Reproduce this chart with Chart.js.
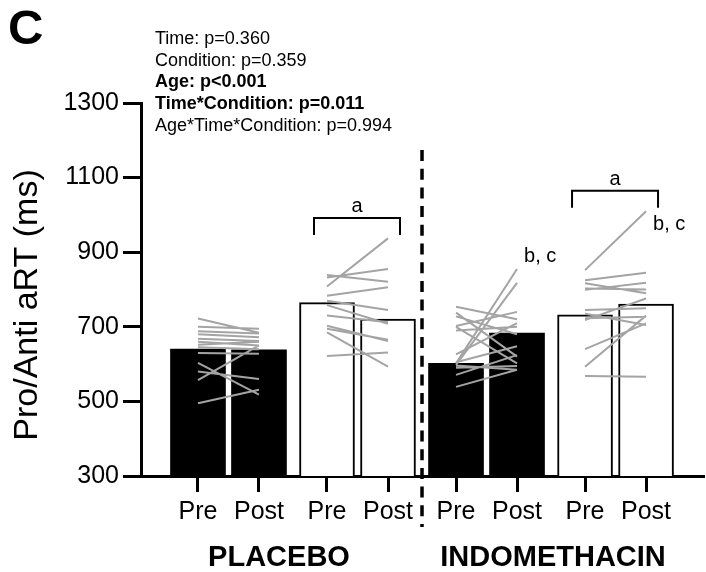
<!DOCTYPE html>
<html>
<head>
<meta charset="utf-8">
<script src="https://cdn.jsdelivr.net/npm/chart.js@4.4.1/dist/chart.umd.min.js"></script>
<style>
  html, body { margin: 0; padding: 0; background: #fff; }
</style>
</head>
<body>
<canvas id="myChart" width="706" height="572"></canvas>
<script>
// labels
const timeLabels = ['Pre', 'Post', 'Pre', 'Post', 'Pre', 'Post', 'Pre', 'Post'];
const conditionLabels = ['PLACEBO', 'INDOMETHACIN'];
const yTitle = 'Pro/Anti aRT (ms)';
const statLines = [
    { text: 'Time: p=0.360', bold: false },
    { text: 'Condition: p=0.359', bold: false },
    { text: 'Age: p<0.001', bold: true },
    { text: 'Time*Condition: p=0.011', bold: true },
    { text: 'Age*Time*Condition: p=0.994', bold: false }
];

// bar means: placebo pre, placebo post, indomethacin pre, indomethacin post
const blackMeans = [640, 638, 602, 683];
const whiteMeans = [765, 721, 732, 761];

// individual participants (pre -> post)
const placeboBlackPre  = [722, 700, 688, 680, 668, 660, 652, 645, 630, 603, 557, 580, 495];
const placeboBlackPost = [684, 695, 682, 672, 662, 650, 660, 640, 628, 518, 650, 560, 531];
const placeboWhitePre  = [808, 839, 832, 783, 770, 758, 730, 703, 695, 685, 622];
const placeboWhitePost = [937, 821, 855, 806, 745, 708, 712, 662, 665, 593, 631];
const indoBlackPre  = [602, 598, 754, 738, 702, 690, 700, 605, 596, 539, 626, 728, 590, 571];
const indoBlackPost = [855, 818, 720, 620, 740, 700, 602, 648, 585, 585, 710, 680, 595, 624];
const indoWhitePre  = [852, 825, 817, 799, 803, 745, 718, 723, 640, 593, 568, 735];
const indoWhitePost = [1010, 845, 790, 818, 800, 750, 776, 727, 709, 730, 566, 705];

const FONT = 'Arial, "Liberation Sans", sans-serif';
Chart.defaults.font.family = FONT;
Chart.defaults.color = '#000';

// x position of bar i (a little extra room between age groups)
function slot(i) {
    return i + Math.floor(i / 2) * 0.115;
}

function pairs(pre, post, i) {
    var d = [];
    pre.forEach(function (v, k) {
        d.push({ x: slot(i), y: v }, { x: slot(i + 1), y: post[k] }, { x: slot(i + 1), y: null });
    });
    return d;
}

function subjectLines(data) {
    return {
        type: 'line',
        data: data,
        borderColor: '#a4a4a4',
        borderWidth: 2,
        pointRadius: 0,
        spanGaps: false,
        order: 0
    };
}

const overlay = {
    id: 'overlay',
    afterDraw(chart) {
        const ctx = chart.ctx;
        const x = chart.scales.x;
        const y = chart.scales.y;
        ctx.save();
        ctx.fillStyle = '#000';
        ctx.strokeStyle = '#000';
        ctx.textBaseline = 'middle';

        ctx.font = 'bold 49px ' + FONT;
        ctx.textAlign = 'left';
        ctx.fillText('C', 8, 30);

        statLines.forEach(function (s, i) {
            ctx.font = (s.bold ? 'bold ' : '') + '18px ' + FONT;
            ctx.fillText(s.text, 155, 39 + i * 21.7);
        });

        ctx.save();
        ctx.translate(28, 305);
        ctx.rotate(-Math.PI / 2);
        ctx.textAlign = 'center';
        ctx.font = '34px ' + FONT;
        ctx.fillText(yTitle, 0, 0);
        ctx.restore();

        // divider between conditions
        const midX = (x.getPixelForValue(slot(3)) + x.getPixelForValue(slot(4))) / 2;
        ctx.lineWidth = 3.5;
        ctx.setLineDash([11, 7.7]);
        ctx.beginPath();
        ctx.moveTo(midX, 150);
        ctx.lineTo(midX, 527);
        ctx.stroke();
        ctx.setLineDash([]);

        // significance brackets
        ctx.lineWidth = 2;
        ctx.font = '20px ' + FONT;
        ctx.textAlign = 'center';
        [[2, 3, 992], [6, 7, 1065]].forEach(function (b) {
            const x0 = x.getPixelForValue(slot(b[0])) - 13;
            const x1 = x.getPixelForValue(slot(b[1])) + 12;
            const top = y.getPixelForValue(b[2]);
            ctx.beginPath();
            ctx.moveTo(x0, top + 17);
            ctx.lineTo(x0, top);
            ctx.lineTo(x1, top);
            ctx.lineTo(x1, top + 17);
            ctx.stroke();
            ctx.fillText('a', (x0 + x1) / 2, top - 11);
        });

        ctx.textAlign = 'left';
        [[5, 888], [7, 973]].forEach(function (b) {
            ctx.fillText('b, c', x.getPixelForValue(slot(b[0])) + 7, y.getPixelForValue(b[1]));
        });

        ctx.font = 'bold 29px ' + FONT;
        ctx.textAlign = 'center';
        ctx.fillText(conditionLabels[0], 279, 558);
        ctx.fillText(conditionLabels[1], 553, 558);
        ctx.restore();
    }
};

const ctx = document.getElementById('myChart').getContext('2d');

new Chart(ctx, {
    type: 'bar',
    data: {
        datasets: [
            subjectLines(pairs(placeboBlackPre, placeboBlackPost, 0)),
            subjectLines(pairs(placeboWhitePre, placeboWhitePost, 2)),
            subjectLines(pairs(indoBlackPre, indoBlackPost, 4)),
            subjectLines(pairs(indoWhitePre, indoWhitePost, 6)),
            {
                data: blackMeans.map(function (v, k) { return { x: slot(k < 2 ? k : k + 2), y: v }; }),
                backgroundColor: '#000',
                borderWidth: 0,
                barThickness: 55,
                grouped: false,
                order: 1
            },
            {
                data: whiteMeans.map(function (v, k) { return { x: slot(k < 2 ? k + 2 : k + 4), y: v }; }),
                backgroundColor: '#fff',
                borderColor: '#000',
                borderWidth: 2,
                barThickness: 55,
                grouped: false,
                order: 1
            }
        ]
    },
    options: {
        responsive: false,
        animation: false,
        layout: { padding: { top: 103, right: 2, left: 0, bottom: 0 } },
        plugins: { legend: { display: false }, tooltip: { enabled: false } },
        scales: {
            x: {
                type: 'linear',
                min: -0.934,
                max: 8.295,
                offset: false,
                afterBuildTicks: function (s) {
                    s.ticks = timeLabels.map(function (_, i) { return { value: slot(i) }; });
                },
                afterFit: function (s) { s.height = 96; },
                ticks: {
                    autoSkip: false,
                    maxRotation: 0,
                    padding: 5,
                    font: { size: 25 },
                    callback: function (v, i) { return timeLabels[i]; }
                },
                grid: { offset: false, drawOnChartArea: false, tickLength: 16, tickWidth: 3, tickColor: '#000' },
                border: { display: true, color: '#000', width: 3 }
            },
            y: {
                min: 300,
                max: 1300,
                afterFit: function (s) { s.width = 141; },
                ticks: {
                    stepSize: 200,
                    padding: 4,
                    font: { size: 25 },
                    callback: function (v) { return String(v); }
                },
                grid: { drawOnChartArea: false, tickLength: 18, tickWidth: 3, tickColor: '#000' },
                border: { display: true, color: '#000', width: 3 }
            }
        }
    },
    plugins: [overlay]
});
</script>
</body>
</html>
